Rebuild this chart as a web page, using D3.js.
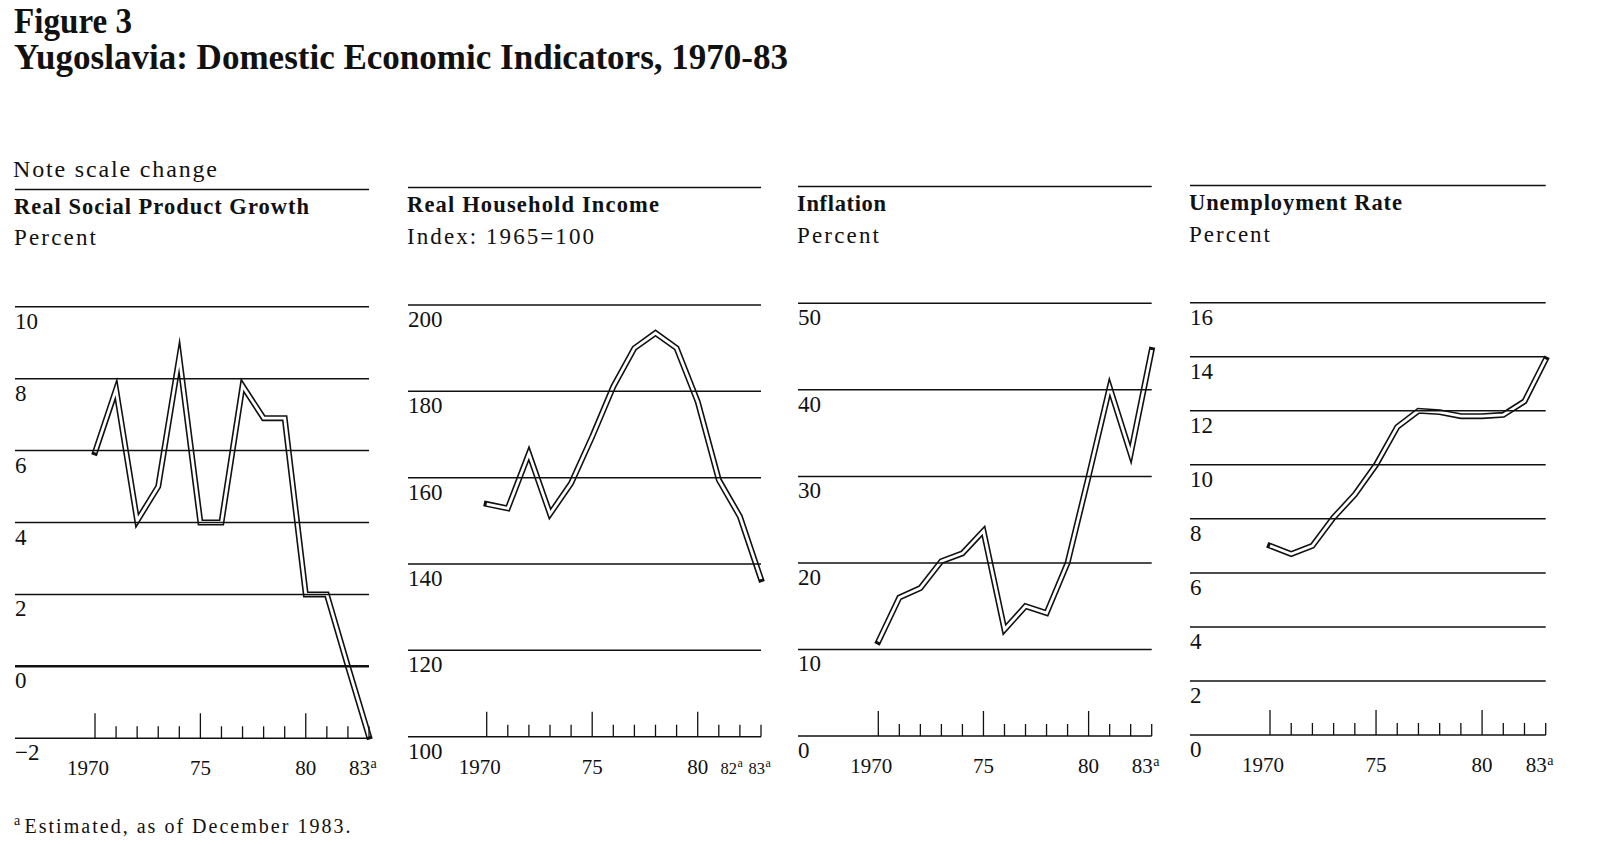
<!DOCTYPE html>
<html lang="en">
<head>
<meta charset="UTF-8">
<title>Yugoslavia: Domestic Economic Indicators, 1970-83</title>
<script src="https://d3js.org/d3.v7.min.js"></script>
<style>
    body { margin: 0; background: #fff; }
    svg { display: block; }
    text { font-family: "Liberation Serif", "DejaVu Serif", serif; fill: #111; }
    .head { font-weight: bold; font-size: 35px; }
    .ptitle { font-weight: bold; font-size: 22.5px; }
    .psub { font-size: 23px; }
    .ylab { font-size: 23px; }
    .xlab { font-size: 21px; }
    .sup { font-size: 14px; }
</style>
</head>
<body>
<svg id="chart" width="1600" height="845"></svg>
<script>
// values
const years = [1970, 1971, 1972, 1973, 1974, 1975, 1976, 1977, 1978, 1979, 1980, 1981, 1982, 1983];
const growth = [5.95, 7.7, 4.05, 5.0, 8.6, 4.0, 4.0, 7.8, 6.9, 6.9, 2.0, 2.0, 0.0, -1.95];
const income = [153.9, 152.9, 165.6, 151.6, 158.7, 169.5, 181.1, 190.0, 193.5, 190.0, 177.6, 159.5, 151.0, 136.5];
const inflation = [10.9, 16.0, 17.1, 20.2, 21.1, 23.7, 12.3, 15.0, 14.2, 20.0, 30.0, 40.3, 32.6, 44.6];
const unemployment = [7.0, 6.7, 7.0, 8.05, 8.9, 10.0, 11.4, 12.0, 11.95, 11.8, 11.8, 11.85, 12.35, 13.9];

const growthTicks = [-2, 0, 2, 4, 6, 8, 10];
const incomeTicks = [100, 120, 140, 160, 180, 200];
const inflationTicks = [0, 10, 20, 30, 40, 50];
const unemploymentTicks = [0, 2, 4, 6, 8, 10, 12, 14, 16];

const majorYears = [1970, 1975, 1980];
const labelYears = [1970, 1975, 1980, 1983];
const labelYearsIncome = [1970, 1975, 1980, 1982, 1983];
const estimatedYears = [1982, 1983];

const panels = [
    { title: "Real Social Product Growth", sub: "Percent", values: growth, ticks: growthTicks, labels: labelYears,
      x0: 15, x70: 95, x83: 369, top: 306.7, bot: 738.3, ruleY: 189.5, titleY: 214, subY: 245, titleW: 295, subW: 82 },
    { title: "Real Household Income", sub: "Index: 1965=100", values: income, ticks: incomeTicks, labels: labelYearsIncome,
      x0: 408, x70: 486.7, x83: 761, top: 305, bot: 736.7, ruleY: 187.5, titleY: 212, subY: 244, titleW: 252, subW: 187 },
    { title: "Inflation", sub: "Percent", values: inflation, ticks: inflationTicks, labels: labelYears,
      x0: 798, x70: 878.3, x83: 1151.7, top: 303.3, bot: 736, ruleY: 186.5, titleY: 210.5, subY: 242.5, titleW: 89, subW: 82 },
    { title: "Unemployment Rate", sub: "Percent", values: unemployment, ticks: unemploymentTicks, labels: labelYears,
      x0: 1190, x70: 1270, x83: 1545.7, top: 302.7, bot: 735, ruleY: 185.5, titleY: 209.5, subY: 241.5, titleW: 213, subW: 81 }
];

const svg = d3.select('#chart');
svg.append('rect').attr('width', 1600).attr('height', 845).attr('fill', '#fff');

// heading
svg.append('text').attr('class', 'head').attr('x', 14).attr('y', 33)
    .attr('textLength', 118).attr('lengthAdjust', 'spacingAndGlyphs').text('Figure 3');
svg.append('text').attr('class', 'head').attr('x', 14).attr('y', 69)
    .attr('textLength', 774).attr('lengthAdjust', 'spacingAndGlyphs')
    .text('Yugoslavia: Domestic Economic Indicators, 1970-83');
svg.append('text').attr('x', 13).attr('y', 177).style('font-size', '24px')
    .attr('textLength', 204).text('Note scale change');

panels.forEach(p => {
    const x = d3.scaleLinear().domain([1970, 1983]).range([p.x70, p.x83]);
    const y = d3.scaleLinear().domain([p.ticks[0], p.ticks[p.ticks.length - 1]]).range([p.bot, p.top]);
    const g = svg.append('g');

    // panel header
    g.append('line').attr('x1', p.x0).attr('x2', p.x83).attr('y1', p.ruleY).attr('y2', p.ruleY)
        .attr('stroke', '#111').attr('stroke-width', 1.6);
    g.append('text').attr('class', 'ptitle').attr('x', p.x0 - 1).attr('y', p.titleY)
        .attr('textLength', p.titleW).text(p.title);
    g.append('text').attr('class', 'psub').attr('x', p.x0 - 1).attr('y', p.subY)
        .attr('textLength', p.subW).text(p.sub);

    // double line series
    const pts = years.map((yr, i) => [yr, p.values[i]]);
    const line = d3.line().x(d => x(d[0])).y(d => y(d[1]));
    g.append('path').attr('d', line(pts)).attr('fill', 'none')
        .attr('stroke', '#111').attr('stroke-width', 6)
        .attr('stroke-linecap', 'square').attr('stroke-linejoin', 'miter').attr('stroke-miterlimit', 12);
    g.append('path').attr('d', line(pts)).attr('fill', 'none')
        .attr('stroke', '#fff').attr('stroke-width', 2.8)
        .attr('stroke-linecap', 'butt').attr('stroke-linejoin', 'miter').attr('stroke-miterlimit', 12);

    // gridlines drawn over the series
    g.selectAll('.grid').data(p.ticks).join('line').attr('class', 'grid')
        .attr('x1', p.x0).attr('x2', p.x83)
        .attr('y1', d => y(d)).attr('y2', d => y(d))
        .attr('stroke', '#111')
        .attr('stroke-width', d => (d === 0 && p.ticks[0] < 0) ? 2.5 : 1.5);

    g.selectAll('.ylab').data(p.ticks).join('text').attr('class', 'ylab')
        .attr('x', p.x0).attr('y', d => y(d) + 22)
        .text(d => d < 0 ? '\u2212' + Math.abs(d) : d);

    // year ticks pointing up from the base line
    g.selectAll('.tick').data(years).join('line').attr('class', 'tick')
        .attr('x1', d => x(d)).attr('x2', d => x(d))
        .attr('y1', p.bot).attr('y2', d => p.bot - (majorYears.includes(d) ? 25 : 12))
        .attr('stroke', '#111').attr('stroke-width', 1.3);

    // year labels; estimated years carry a superscript a
    const tight = p.labels.includes(1982);
    p.labels.forEach(yr => {
        const txt = yr === 1970 ? '1970' : String(yr).slice(2);
        if (estimatedYears.includes(yr)) {
            const right = tight ? (yr === 1982 ? x(yr) - 3 : x(yr) + 4) : x(yr) + 1;
            g.append('text').attr('class', 'xlab').attr('x', right).attr('y', p.bot + 37)
                .attr('text-anchor', 'end').style('font-size', tight ? '16.5px' : null).text(txt);
            g.append('text').attr('class', 'sup').attr('x', right + 0.5).attr('y', p.bot + 30)
                .style('font-size', tight ? '12px' : null).text('a');
        } else {
            g.append('text').attr('class', 'xlab').attr('x', x(yr) + (yr === 1970 ? -7 : 0)).attr('y', p.bot + 37)
                .attr('text-anchor', 'middle').text(txt);
        }
    });
});

// footnote
svg.append('text').attr('class', 'sup').attr('x', 14).attr('y', 825).text('a');
svg.append('text').attr('x', 24.5).attr('y', 833).style('font-size', '20px')
    .attr('textLength', 326).text('Estimated, as of December 1983.');
</script>
</body>
</html>
